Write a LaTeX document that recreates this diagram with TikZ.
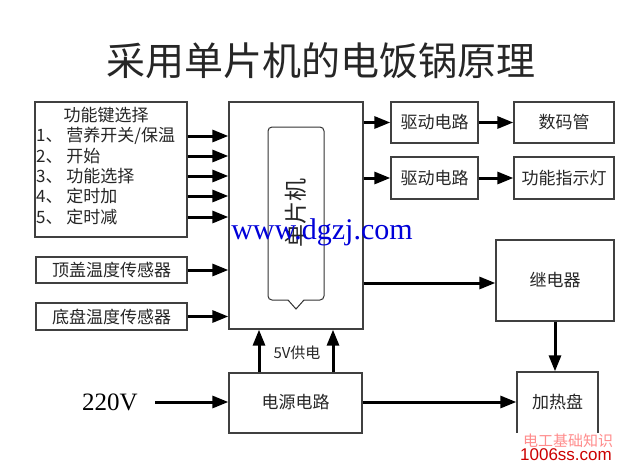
\documentclass[tikz,border=0pt]{standalone}
\usepackage{fontspec}
\newfontfamily\cjk{Noto Sans CJK SC}
\newfontfamily\tnr{Liberation Serif}
\newfontfamily\arl{Liberation Sans}
\usetikzlibrary{arrows.meta}
\begin{document}
\begin{tikzpicture}[x=1pt,y=-1pt,
  box/.style={draw=black!75, line width=1.3pt, inner sep=0pt},
  arr/.style={line width=3pt, -{Triangle[length=16pt,width=12pt]}},
  lbl/.style={font=\cjk\fontsize{17}{19}\selectfont, inner sep=0pt, text=black!85},
  keyline/.style={font=\cjk\fontsize{17}{19}\selectfont, inner sep=0pt, anchor=west, text=black!85}]
\useasboundingbox[fill=white] (0,0) rectangle (640,464);
% title
\node[font=\cjk\fontsize{39}{42}\selectfont, inner sep=0pt, text=black!85] (title) at (321,61) {采用单片机的电饭锅原理};
% key box
\node[box, minimum width=152pt, minimum height=135pt] (keys) at (111,169.5) {};
\node[lbl] (k0) at (106,115) {功能键选择};
\node[keyline] (k1) at (36,136) {1、 营养开关/保温};
\node[keyline] (k2) at (36,156) {2、 开始};
\node[keyline] (k3) at (36,176) {3、 功能选择};
\node[keyline] (k4) at (36,196) {4、 定时加};
\node[keyline] (k5) at (36,217) {5、 定时减};
% MCU
\node[box, minimum width=134pt, minimum height=227pt] (mcu) at (296,215.5) {};
\node[draw=black!80, line width=1pt, rounded corners=4pt, minimum width=56pt, minimum height=173pt] (core) at (296,213.5) {};
\fill[white] (287.5,298.5) -- (304.5,298.5) -- (296,309) -- cycle;
\draw[black!80, line width=1pt] (288,300) -- (296,309) -- (304,300);
\node[rotate=90, font=\cjk\fontsize{23}{25}\selectfont, inner sep=0pt, text=black!85] (mcutext) at (296,213) {单片机};
% key arrows
\foreach \yy in {136,156,176,196,217}{
  \draw[arr] (keys.east |- 0,\yy) -- (mcu.west |- 0,\yy);
}
% sensors
\node[box, minimum width=151pt, minimum height=26pt] (s1) at (111.5,270) {};
\node[lbl] (s1t) at (111.5,270) {顶盖温度传感器};
\node[box, minimum width=151pt, minimum height=27pt] (s2) at (111.5,316.5) {};
\node[lbl] (s2t) at (111.5,316.5) {底盘温度传感器};
\draw[arr] (s1.east) -- (s1.east -| mcu.west);
\draw[arr] (s2.east) -- (s2.east -| mcu.west);
% drivers
\node[box, minimum width=87pt, minimum height=41pt] (d1) at (434.5,122.5) {};
\node[lbl] (d1t) at (434.5,122.5) {驱动电路};
\node[box, minimum width=100pt, minimum height=41pt] (disp) at (564,122.5) {};
\node[lbl] (dispt) at (564,122.5) {数码管};
\node[box, minimum width=87pt, minimum height=42pt] (d2) at (434.5,178) {};
\node[lbl] (d2t) at (434.5,178) {驱动电路};
\node[box, minimum width=100pt, minimum height=42pt] (lamp) at (564,178) {};
\node[lbl] (lampt) at (564,178) {功能指示灯};
\draw[arr] (d1.west -| mcu.east) -- (d1.west);
\draw[arr] (d2.west -| mcu.east) -- (d2.west);
\draw[arr] (d1.east) -- (disp.west);
\draw[arr] (d2.east) -- (lamp.west);
% relay
\node[box, minimum width=118pt, minimum height=81pt] (relay) at (555,280.5) {};
\node[lbl] (relayt) at (555,280.5) {继电器};
\draw[arr] (mcu.east |- 0,283) -- (relay.west |- 0,283);
% power
\node[box, minimum width=133pt, minimum height=60pt] (psu) at (295.5,403) {};
\node[lbl] (psut) at (295.5,402) {电源电路};
\draw[arr] (psu.north -| 259,0) -- (mcu.south -| 259,0);
\draw[arr] (psu.north -| 333,0) -- (mcu.south -| 333,0);
\node[font=\cjk\fontsize{15}{17}\selectfont, inner sep=0pt, text=black!85] (v5) at (297,353) {5V供电};
\node[font=\tnr\fontsize{25}{27}\selectfont, inner sep=0pt] (ac) at (110,402) {220V};
\coordinate (acin) at (155,402);
\draw[arr] (acin) -- (psu.west |- acin);
% heater
\node[box, minimum width=81pt, minimum height=66pt] (heat) at (557.5,405) {};
\node[lbl] (heatt) at (557.5,402) {加热盘};
\draw[arr] (psu.east |- 0,402) -- (heat.west |- 0,402);
\draw[arr] (relay.south) -- (relay.south |- heat.north);
% watermarks
\node[font=\tnr\fontsize{30}{32}\selectfont, text=blue!85!black, inner sep=0pt] (wm1) at (322,232) {www.dgzj.com};
\fill[white] (516,433) rectangle (640,464);
\node[font=\cjk\fontsize{15}{16}\selectfont, text=red!45, inner sep=0pt] (wm2) at (568,441) {电工基础知识};
\node[font=\arl\fontsize{17}{18}\selectfont, text=red!80!black, inner sep=0pt] (wm3) at (566,455) {1006ss.com};
\end{tikzpicture}
\end{document}
